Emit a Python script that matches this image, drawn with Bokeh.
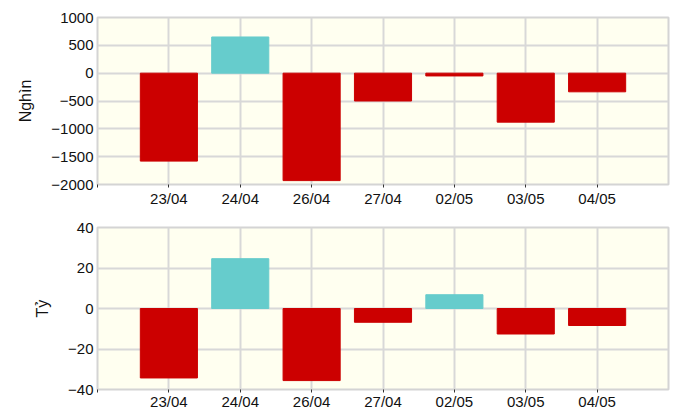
from bokeh.plotting import figure
from bokeh.models import ColumnDataSource, FixedTicker, Range1d
from bokeh.layouts import column
from bokeh.embed import file_html
from bokeh.resources import INLINE

dates = ["23/04", "24/04", "26/04", "27/04", "02/05", "03/05", "04/05"]
nghin = [-1580, 650, -1930, -500, -50, -880, -335]
ty = [-34.3, 24.6, -35.6, -6.8, 6.8, -12.6, -8.4]
nghin_ticks = [-2000, -1500, -1000, -500, 0, 500, 1000]
ty_ticks = [-40, -20, 0, 20, 40]

POS = "#66CCCC"
NEG = "#CC0000"
FONT = "Liberation Sans"


def make(values, yticks, label, height, top, bottom, standoff):
    x = list(range(1, len(dates) + 1))
    colors = [POS if v >= 0 else NEG for v in values]
    src = ColumnDataSource(dict(x=x, top=values, color=colors))
    p = figure(width=671, height=height, output_backend="svg", toolbar_location=None,
               x_range=Range1d(0, len(dates) + 1), y_range=Range1d(yticks[0], yticks[-1]),
               min_border_left=97, min_border_right=3, min_border_top=top,
               min_border_bottom=bottom)
    p.vbar(x="x", top="top", bottom=0, width=0.8, fill_color="color",
           line_color="color", source=src)
    xt = list(range(0, len(dates) + 1))
    p.xaxis.ticker = FixedTicker(ticks=xt)
    overrides = {0: ""}
    for i, d in enumerate(dates):
        overrides[i + 1] = d
    p.xaxis.major_label_overrides = overrides
    p.yaxis.ticker = FixedTicker(ticks=yticks)
    p.xgrid.ticker = FixedTicker(ticks=xt)
    p.ygrid.ticker = FixedTicker(ticks=yticks)
    for g in (p.xgrid, p.ygrid):
        g.grid_line_color = "#d8d8d8"
        g.grid_line_width = 2
    p.background_fill_color = "#FFFFF0"
    p.border_fill_color = "white"
    p.outline_line_color = "#d4d4d4"
    p.outline_line_width = 2
    for ax in (p.xaxis, p.yaxis):
        ax.axis_line_color = None
        ax.minor_tick_line_color = None
        ax.major_label_text_font = FONT
        ax.major_label_text_font_size = "15px"
        ax.major_label_text_color = "#111111"
    p.xaxis.major_tick_line_color = "#333333"
    p.xaxis.major_tick_out = 3
    p.xaxis.major_tick_in = 0
    p.xaxis.major_label_standoff = standoff
    p.yaxis.major_tick_line_color = None
    p.yaxis.major_tick_out = 0
    p.yaxis.major_tick_in = 0
    p.yaxis.major_label_standoff = 4
    p.yaxis.axis_label = label
    p.yaxis.axis_label_text_font = FONT
    p.yaxis.axis_label_text_font_size = "16px"
    p.yaxis.axis_label_text_font_style = "normal"
    p.yaxis.axis_label_text_color = "#111111"
    p.yaxis.axis_label_standoff = 14
    return p


p1 = make(nghin, nghin_ticks, "Nghìn", 209, 17, 25, 2)
p2 = make(ty, ty_ticks, "Tỷ", 203, 18, 20, 0)

layout = column(p1, p2, spacing=0)
open("out.html", "w").write(file_html(layout, INLINE))
